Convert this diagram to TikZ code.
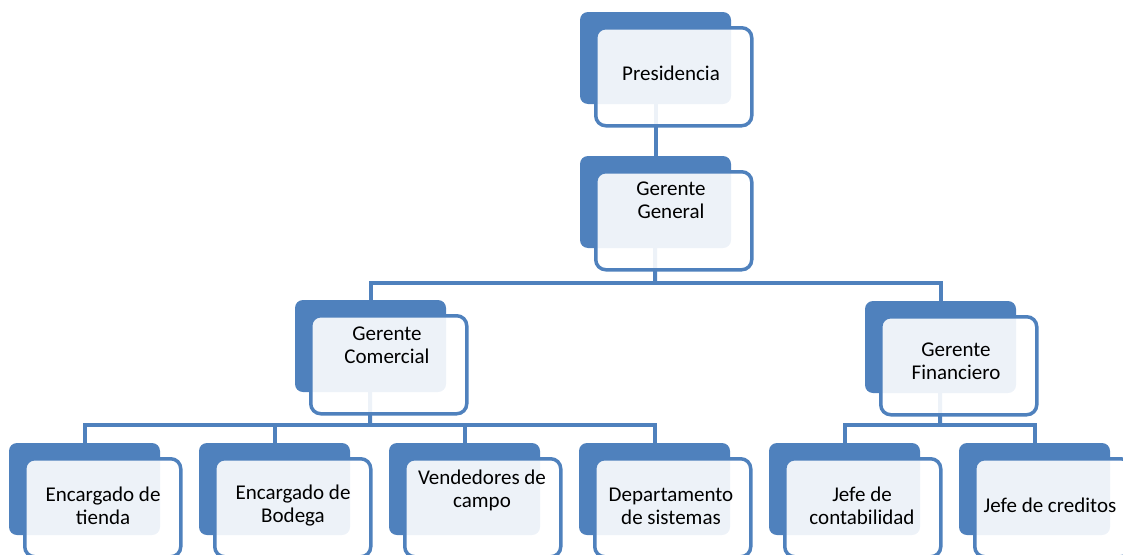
\documentclass[tikz,border=0pt]{standalone}
\usepackage{fontspec}
\setmainfont{Carlito}
\usetikzlibrary{positioning, backgrounds}
\definecolor{orgblue}{HTML}{4F81BD}

\begin{document}
\begin{tikzpicture}[x=1pt, y=-1pt,
    back/.style={rectangle, rounded corners=8pt, fill=orgblue, minimum width=151pt, minimum height=92pt, anchor=north west, inner sep=0pt, outer sep=0pt},
    front/.style={rectangle, rounded corners=10pt, draw=orgblue, line width=3.5pt, fill=white, fill opacity=0.9, minimum width=156pt, minimum height=98pt, inner sep=0pt},
    txt/.style={align=center, font=\fontsize{21}{23}\selectfont, text=black},
    conn/.style={draw=orgblue, line width=4pt}
  ]
    \useasboundingbox (0,0) rectangle (1123,554);
    \clip (0,0) rectangle (1123,554);
    % top levels
    \node[back] (pres) at (580,12) {};
    \node[front, below right=14pt and 14pt of pres.north west] (presf) {};
    \node[txt] (prest) at (671,73) {Presidencia};
    \node[back] (gg) at (580,156) {};
    \node[front, below right=14pt and 14pt of gg.north west] (ggf) {};
    \node[txt] (ggt) at (671,200) {Gerente\\General};
    % managers
    \node[back] (gc) at (295,300) {};
    \node[front, below right=14pt and 14pt of gc.north west] (gcf) {};
    \node[txt] (gct) at (387,345) {Gerente\\Comercial};
    \node[back] (gf) at (865,301) {};
    \node[front, below right=14pt and 14pt of gf.north west] (gff) {};
    \node[txt] (gft) at (956,361) {Gerente\\Financiero};
    % bottom row
    \node[back] (e1) at (9,443) {};
    \node[front, below right=14pt and 14pt of e1.north west] (e1f) {};
    \node[txt] (e1t) at (103,506) {Encargado de\\tienda};
    \node[back] (e2) at (199,443) {};
    \node[front, below right=14pt and 14pt of e2.north west] (e2f) {};
    \node[txt] (e2t) at (293,506) {Encargado de\\Bodega};
    \node[back] (e3) at (389,443) {};
    \node[front, below right=14pt and 14pt of e3.north west] (e3f) {};
    \node[txt] (e3t) at (482,490) {Vendedores de\\campo};
    \node[back] (e4) at (579,443) {};
    \node[front, below right=14pt and 14pt of e4.north west] (e4f) {};
    \node[txt] (e4t) at (671,506) {Departamento\\de sistemas};
    \node[back] (j1) at (769,443) {};
    \node[front, below right=14pt and 14pt of j1.north west] (j1f) {};
    \node[txt] (j1t) at (862,506) {Jefe de\\contabilidad};
    \node[back] (j2) at (959,443) {};
    \node[front, below right=14pt and 14pt of j2.north west] (j2f) {};
    \node[txt] (j2t) at (1050,505) {Jefe de creditos};
    % connectors
    \coordinate (fork1) at (655,283);
    \coordinate (fork2) at (370,425);
    \coordinate (fork3) at (940,425);
    \begin{scope}[on background layer]
      \draw[conn] (pres.center) -- (gg.center);
      \draw[conn] (gg.center) -- (fork1);
      \draw[conn] (gc.center) |- (fork1) -| (gf.center);
      \draw[conn] (gc.center) -- (fork2);
      \draw[conn] (e1.center) |- (fork2) -| (e4.center);
      \draw[conn] (e2.center) -- (e2.center |- fork2);
      \draw[conn] (e3.center) -- (e3.center |- fork2);
      \draw[conn] (gf.center) -- (fork3);
      \draw[conn] (j1.center) |- (fork3) -| (j2.center);
    \end{scope}
  \end{tikzpicture}
\end{document}
